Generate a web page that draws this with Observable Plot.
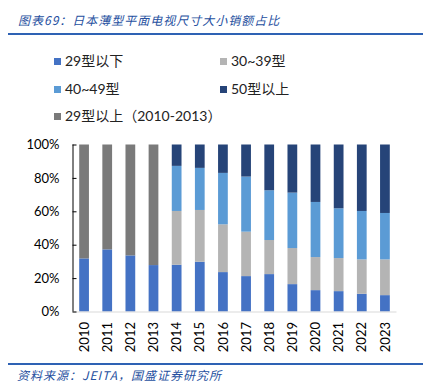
<!DOCTYPE html>
<html><head><meta charset="utf-8">
<script src="https://cdn.jsdelivr.net/npm/d3@7"></script>
<script src="https://cdn.jsdelivr.net/npm/@observablehq/plot@0.6"></script>
<style>
body{margin:0;background:#fff;width:429px;height:392px;position:relative;overflow:hidden;font-family:Lato,"Noto Sans CJK SC",sans-serif;}
.abs{position:absolute;}
.rule{left:8px;width:415px;background:#2e62b4;}
#title{left:18px;top:13px;font-size:12px;line-height:14px;font-style:italic;color:#2650a0;letter-spacing:1px;font-family:"Noto Sans CJK SC",sans-serif;}
#source{left:17px;top:368px;font-size:12px;line-height:14px;font-style:italic;color:#2650a0;letter-spacing:1px;font-family:"Noto Sans CJK SC",sans-serif;}
.lg{position:absolute;display:flex;align-items:center;font-size:14px;line-height:16px;color:#222;white-space:nowrap;}
.lg span.sw{display:inline-block;width:7px;height:7px;margin-right:4px;}
</style></head><body>
<div id="title" class="abs">图表69：日本薄型平面电视尺寸大小销额占比</div>
<div class="abs rule" style="top:33px;height:2px"></div>
<div id="legend"></div>
<div id="chart" class="abs" style="top:130px;left:0"></div>
<div class="abs rule" style="top:363px;height:1.5px"></div>
<div id="source" class="abs">资料来源：JEITA，国盛证券研究所</div>
<script>
const years = [2010,2011,2012,2013,2014,2015,2016,2017,2018,2019,2020,2021,2022,2023];
const seriesNames = ["29型以下","30~39型","40~49型","50型以上","29型以上（2010-2013）"];
const seriesColors = ["#4472C4","#B4B4B4","#5B9BD5","#264478","#7A7A7A"];
const v29Below  = [31.8,37.2,33.6,27.8,28.0,29.8,23.6,21.2,22.4,16.4,12.8,12.2,10.6,9.8];
const v30to39   = [null,null,null,null,32.2,31.0,28.6,26.6,20.4,21.6,19.8,19.8,20.6,21.4];
const v40to49   = [null,null,null,null,27.0,25.2,30.8,33.0,29.8,33.2,33.0,29.8,29.0,27.8];
const v50Above  = [null,null,null,null,12.8,14.0,17.0,19.2,27.4,28.8,34.4,38.2,39.8,41.0];
const v29Above  = [68.2,62.8,66.4,72.2,null,null,null,null,null,null,null,null,null,null];
const yTicks = [0,20,40,60,80,100];

// stack order bottom -> top
const stackSeries = [
  [seriesNames[0], v29Below],
  [seriesNames[4], v29Above],
  [seriesNames[1], v30to39],
  [seriesNames[2], v40to49],
  [seriesNames[3], v50Above]
];
const rows = [];
years.forEach((yr, i) => {
  let acc = 0;
  for (const [name, vals] of stackSeries) {
    const v = vals[i];
    if (v == null) continue;
    rows.push({year: yr, series: name, y1: acc, y2: acc + v});
    acc += v;
  }
});

// legend (HTML)
const legendPos = [[54,61],[220,61],[54,89],[220,89],[54,116]];
const lg = document.getElementById("legend");
seriesNames.forEach((n, i) => {
  const d = document.createElement("div");
  d.className = "lg";
  d.style.left = legendPos[i][0] + "px";
  d.style.top = (legendPos[i][1] - 8) + "px";
  d.innerHTML = `<span class="sw" style="background:${seriesColors[i]}"></span><span>${n}</span>`;
  lg.appendChild(d);
});

const chart = Plot.plot({
  width: 429,
  height: 230,
  marginTop: 14.5,
  marginBottom: 48.5,
  marginLeft: 72.5,
  marginRight: 32.5,
  x: {type: "linear", domain: [2009.5, 2023.5]},
  y: {domain: [0, 100]},
  color: {domain: seriesNames, range: seriesColors},
  style: {fontFamily: 'Lato, "Noto Sans CJK SC", sans-serif', fontSize: "13px", color: "#000", background: "#fff"},
  marks: [
    Plot.rect(rows, {x1: d => d.year - 0.5, x2: d => d.year + 0.5, y1: "y1", y2: "y2", fill: "series", insetLeft: 6.7, insetRight: 6.7}),
    Plot.ruleY([0], {stroke: "#d9d9d9", strokeWidth: 1}),
    Plot.ruleX([2009.5], {stroke: "#000", strokeWidth: 1}),
    Plot.axisY({ticks: yTicks, tickFormat: d => d + "%", tickSize: -4, tickPadding: 17.5, label: null}),
    Plot.axisX({ticks: years, tickFormat: d => String(d), tickRotate: -90, tickSize: 0, tickPadding: 10, label: null})
  ]
});
document.getElementById("chart").appendChild(chart);
</script>
</body></html>
